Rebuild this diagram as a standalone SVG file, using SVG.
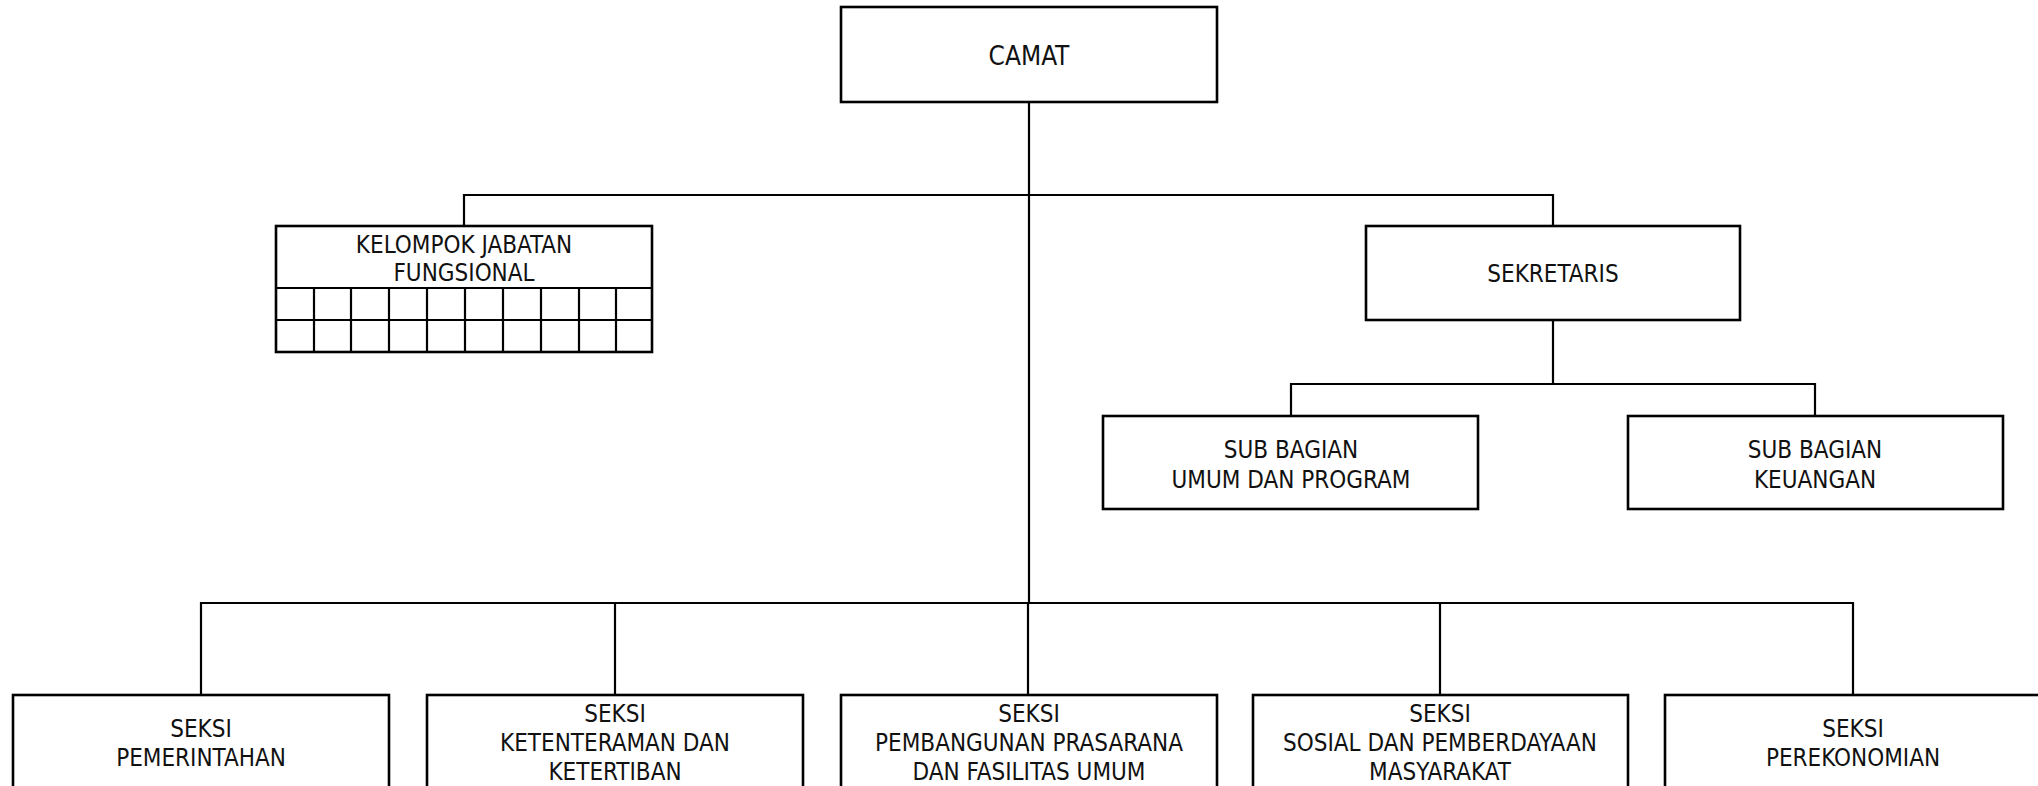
<svg xmlns="http://www.w3.org/2000/svg" width="2038" height="786" viewBox="0 0 2038 786">
<style>
.box{fill:#fff;stroke:#000;stroke-width:2.6}
.grid{fill:none;stroke:#000;stroke-width:2.2}
.con{fill:none;stroke:#000;stroke-width:2.2}
text{font-family:"DejaVu Sans Condensed","DejaVu Sans",sans-serif;font-stretch:condensed;font-size:24px;fill:#111;text-anchor:middle}
.big{font-size:26px}
</style>
<rect width="2038" height="786" fill="#fff"/>
<g id="connectors">
<path class="con" d="M1029 102V603M464 226V195H1553V226M1553 320V384M1291 416V384H1815V416M201 695V603H1853V695M615 603V695M1028 603V695M1440 603V695"/>
</g>
<g id="camat">
<rect class="box" x="841" y="7" width="376" height="95"/>
<text class="big" x="1029" y="65">CAMAT</text>
</g>
<g id="kelompok">
<rect class="box" x="276" y="226" width="376" height="126"/>
<path class="grid" d="M276 288H652M276 320H652M314 288V352M351 288V352M389 288V352M427 288V352M465 288V352M503 288V352M541 288V352M579 288V352M616 288V352"/>
<text x="464" y="253">KELOMPOK JABATAN</text>
<text x="464" y="281">FUNGSIONAL</text>
</g>
<g id="sekretaris">
<rect class="box" x="1366" y="226" width="374" height="94"/>
<text x="1553" y="282">SEKRETARIS</text>
</g>
<g id="subbag-umum">
<rect class="box" x="1103" y="416" width="375" height="93"/>
<text x="1291" y="458">SUB BAGIAN</text>
<text x="1291" y="488">UMUM DAN PROGRAM</text>
</g>
<g id="subbag-keuangan">
<rect class="box" x="1628" y="416" width="375" height="93"/>
<text x="1815" y="458">SUB BAGIAN</text>
<text x="1815" y="488">KEUANGAN</text>
</g>
<g id="seksi-pemerintahan">
<rect class="box" x="13" y="695" width="376" height="96"/>
<text x="201" y="737">SEKSI</text>
<text x="201" y="766">PEMERINTAHAN</text>
</g>
<g id="seksi-ketenteraman">
<rect class="box" x="427" y="695" width="376" height="96"/>
<text x="615" y="722">SEKSI</text>
<text x="615" y="751">KETENTERAMAN DAN</text>
<text x="615" y="780">KETERTIBAN</text>
</g>
<g id="seksi-pembangunan">
<rect class="box" x="841" y="695" width="376" height="96"/>
<text x="1029" y="722">SEKSI</text>
<text x="1029" y="751">PEMBANGUNAN PRASARANA</text>
<text x="1029" y="780">DAN FASILITAS UMUM</text>
</g>
<g id="seksi-sosial">
<rect class="box" x="1253" y="695" width="375" height="96"/>
<text x="1440" y="722">SEKSI</text>
<text x="1440" y="751">SOSIAL DAN PEMBERDAYAAN</text>
<text x="1440" y="780">MASYARAKAT</text>
</g>
<g id="seksi-perekonomian">
<rect class="box" x="1665" y="695" width="376" height="96"/>
<text x="1853" y="737">SEKSI</text>
<text x="1853" y="766">PEREKONOMIAN</text>
</g>
</svg>
